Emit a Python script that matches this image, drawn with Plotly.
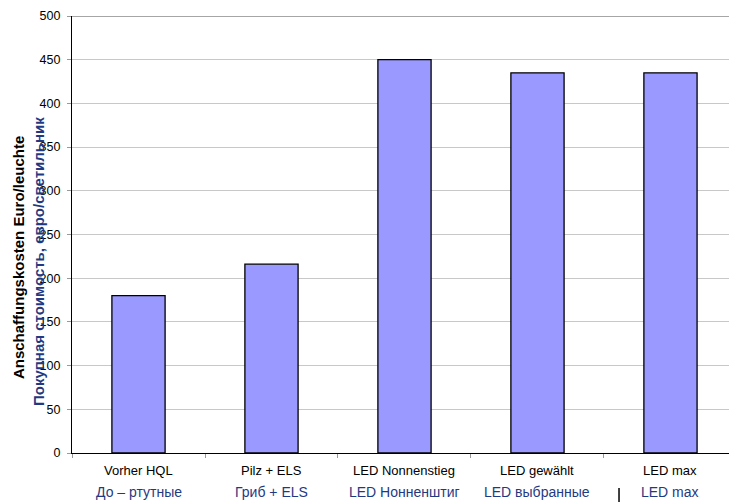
import plotly.graph_objects as go

# Purchase cost per luminaire, by lighting variant
labels_de = ["Vorher HQL", "Pilz + ELS", "LED Nonnenstieg", "LED gewählt", "LED max"]
labels_ru = ["До – ртутные", "Гриб + ELS", "LED Нонненштиг", "LED выбранные", "LED max"]
costs = [180, 216, 450, 435, 435]

y_ticks = list(range(0, 501, 50))

NAVY = "#1F3A82"
FONT = "Liberation Sans, Arial, sans-serif"

fig = go.Figure(
    go.Bar(
        x=labels_de,
        y=costs,
        width=0.4,
        marker=dict(color="#9999FF", line=dict(color="black", width=1.3)),
        hoverinfo="x+y",
    )
)

fig.update_layout(
    width=729,
    height=502,
    margin=dict(l=72, r=0, t=16, b=49),
    paper_bgcolor="white",
    plot_bgcolor="white",
    showlegend=False,
    font=dict(family=FONT, size=12, color="black"),
)

fig.update_xaxes(
    type="category",
    range=[-0.5, 4.44],
    showticklabels=False,
    ticks="outside",
    tickson="boundaries",
    ticklen=4,
    tickcolor="#999999",
    showline=True,
    linecolor="black",
    linewidth=1.3,
    showgrid=False,
    zeroline=False,
)

fig.update_yaxes(
    range=[0, 500],
    tickvals=y_ticks,
    ticks="outside",
    ticklen=4,
    tickcolor="#999999",
    tickfont=dict(size=12.5, color="black"),
    ticklabelstandoff=4,
    showline=True,
    linecolor="black",
    linewidth=1.3,
    showgrid=True,
    gridcolor="#C8C8C8",
    gridwidth=1,
    zeroline=False,
)

# darker frame line along the top of the value range
fig.add_hline(y=500, line=dict(color="#888888", width=1.3))

# two-line category labels: German on top, Russian beneath in navy
for de, ru in zip(labels_de, labels_ru):
    fig.add_annotation(x=de, xref="x", y=0, yref="paper", text=de,
                       showarrow=False, yanchor="middle", yshift=-17,
                       font=dict(size=13, color="black", family=FONT))
    fig.add_annotation(x=de, xref="x", y=0, yref="paper", text=ru,
                       showarrow=False, yanchor="middle", yshift=-39,
                       font=dict(size=14, color=NAVY, family=FONT))

# axis titles, German and Russian
fig.add_annotation(x=0, xref="paper", xshift=-54, y=0.446, yref="paper",
                   text="<b>Anschaffungskosten Euro/leuchte</b>", textangle=-90,
                   showarrow=False, xanchor="center", yanchor="middle",
                   font=dict(size=15, color="black", family=FONT))
fig.add_annotation(x=0, xref="paper", xshift=-34, y=0.437, yref="paper",
                   text="<b>Покупная стоимость, евро/светильник</b>", textangle=-90,
                   showarrow=False, xanchor="center", yanchor="middle",
                   font=dict(size=15, color=NAVY, family=FONT))

# small divider stroke below the axis
fig.add_shape(type="line", xref="paper", yref="paper",
              x0=0.8326, x1=0.8326, y0=-0.080, y1=-0.115,
              line=dict(color="black", width=1.5))

fig.write_html("out.html")
